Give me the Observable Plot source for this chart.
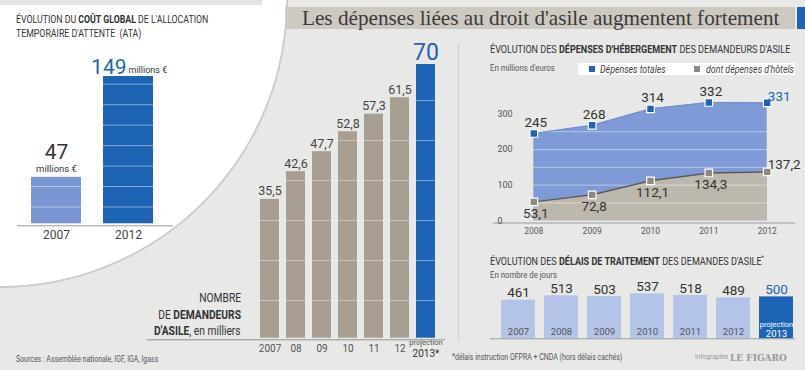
<!DOCTYPE html>
<html><head><meta charset="utf-8">
<script src="https://cdn.jsdelivr.net/npm/d3@7"></script>
<script src="https://cdn.jsdelivr.net/npm/@observablehq/plot@0.6"></script>
<style>
body{margin:0;background:#e8e8e7;}
#root{position:relative;width:805px;height:370px;background:#e8e8e7;overflow:hidden;font-family:Roboto,"Liberation Sans",sans-serif;color:#333;}
.abs{position:absolute;white-space:nowrap;}
.abs svg{display:block;}
</style></head><body><div id="root"></div>
<script>
// ---------- DATA ----------
const ataYears = ["2007", "2012"];
const ataValues = [47, 149];
const demYears = ["2007", "08", "09", "10", "11", "12", "2013"];
const demValues = [35.5, 42.6, 47.7, 52.8, 57.3, 61.5, 70];
const hebYears = [2008, 2009, 2010, 2011, 2012];
const hebTotal = [245, 268, 314, 332, 331];
const hebHotels = [53.1, 72.8, 112.1, 134.3, 137.2];
const delaiYears = ["2007", "2008", "2009", "2010", "2011", "2012", "2013"];
const delaiValues = [461, 513, 503, 537, 518, 489, 500];

// ---------- STYLE ----------
const FONT = 'Roboto,"Liberation Sans",sans-serif';
const BLUE = "#1e64b4";
const LIGHTBLUE = "#7b97d3";
const TAUPE = "#a89f92";
const AREA_BLUE = "#7f9ad6";
const AREA_GRAY = "#bdb8ad";
const PALEBLUE = "#b4c4e8";
const fr = v => String(v).replace(".", ",");

const root = document.getElementById("root");
function place(el, left, top) {
  const d = document.createElement("div");
  d.className = "abs";
  d.style.left = left + "px"; d.style.top = top + "px";
  d.appendChild(el); root.appendChild(d); return d;
}
function txt(html, x, y, size, extra = {}, align = "left", squeeze = 0.82) {
  const d = document.createElement("div");
  d.className = "abs";
  d.innerHTML = html;
  d.style.fontSize = size + "px";
  d.style.lineHeight = (size * 1.1) + "px";
  d.style.top = (y - size * 0.55) + "px";
  if (align === "right") { d.style.right = (805 - x) + "px"; d.style.transformOrigin = "right center"; }
  else { d.style.left = x + "px"; d.style.transformOrigin = "left center"; }
  if (squeeze !== 1) d.style.transform = `scaleX(${squeeze})`;
  Object.assign(d.style, extra);
  root.appendChild(d); return d;
}
function box(left, top, w, h, bgc, extra = {}) {
  const d = document.createElement("div");
  d.className = "abs";
  Object.assign(d.style, {left: left + "px", top: top + "px", width: w + "px", height: h + "px", background: bgc}, extra);
  root.appendChild(d); return d;
}

// ---------- BACKGROUND ----------
const bg = d3.create("svg").attr("width", 805).attr("height", 370);
bg.append("circle").attr("cx", 0).attr("cy", 0).attr("r", 287)
  .attr("fill", "#fff").attr("stroke", "#cdcdcd").attr("stroke-width", 2);
place(bg.node(), 0, 0);
box(0, 0, 262, 5, "#e3e3e3");

// title band
box(285, 7, 510, 22, "#cdc9c1");
box(797, 7, 8, 22, BLUE);
txt("Les dépenses liées au droit d'asile augmentent fortement", 302, 18.5, 21.2,
  {fontFamily: '"Liberation Serif","DejaVu Serif",serif', color: "#3a3a3a"}, "left", 1);

// dotted separator
box(458, 45, 0, 295, "transparent", {borderLeft: "1px dotted #b0b0b0"});

// ---------- CHART 1 : ATA ----------
txt("ÉVOLUTION DU <b>COÛT GLOBAL</b> DE L'ALLOCATION", 16, 20.7, 11.3, {}, "left", 0.775);
txt("TEMPORAIRE D'ATTENTE &nbsp;(ATA)", 16, 34.7, 11.3, {}, "left", 0.775);

const ataData = ataYears.map((year, i) => ({year, value: ataValues[i]}));
const ataGrid = d3.range(17, 149, 20.7);
const ataStripes = ataData.flatMap(d => ataGrid.filter(g => g < d.value - 3).map(level => ({year: d.year, level})));
const p1 = Plot.plot({
  width: 190, height: 210, marginLeft: 17, marginRight: 17, marginTop: 0, marginBottom: 24.7,
  style: {background: "transparent", fontFamily: FONT, overflow: "visible"},
  color: {type: "identity"},
  x: {type: "band", domain: ataYears, range: [30.7, 152.7], paddingInner: 0.3056, paddingOuter: 0, label: null},
  y: {domain: [0, 149], range: [183.3, 36], axis: null},
  marks: [
    Plot.barY(ataData, {x: "year", y: "value", fill: d => d.year === "2012" ? BLUE : LIGHTBLUE}),
    Plot.tickY(ataStripes, {x: "year", y: "level", stroke: "#fff", strokeOpacity: 0.45}),
    Plot.ruleY([0], {dy: 2, stroke: "#9a9a9a"}),
    Plot.axisX({tickSize: 0, tickPadding: 5, fontSize: 12, color: "#444", label: null}),
    Plot.text(ataData.filter(d => d.year === "2007"), {x: "year", y: "value", text: d => fr(d.value), dy: -25, fontSize: 21, fill: "#333"}),
    Plot.text(ataData.filter(d => d.year === "2007"), {x: "year", y: "value", text: () => "millions €", dy: -8.5, fontSize: 9.5, fill: "#333"}),
    Plot.text(ataData.filter(d => d.year === "2012"), {x: "year", y: "value", text: d => fr(d.value), dy: -9.5, dx: -2, textAnchor: "end", fontSize: 21, fill: BLUE}),
    Plot.text(ataData.filter(d => d.year === "2012"), {x: "year", y: "value", text: () => "millions €", dy: -6, dx: 0, textAnchor: "start", fontSize: 9, fill: "#333"})
  ]
});
place(p1, 0, 40);

// ---------- CHART 2 : DEMANDEURS ----------
txt("NOMBRE", 241, 298.3, 12.5, {}, "right");
txt("DE <b>DEMANDEURS</b>", 241, 315, 12.5, {}, "right");
txt("<b>D'ASILE</b>, en milliers", 241, 331.3, 12.5, {}, "right");

const demData = demYears.map((year, i) => ({year, value: demValues[i]}));
const demGrid = d3.range(9.64, 70, 10.23);
const demStripes = demData.flatMap(d => demGrid.filter(g => g < d.value - 1.5).map(level => ({year: d.year, level})));
const proj = demData.filter(d => d.year === "2013");
const notProj = demData.filter(d => d.year !== "2013");
const p2 = Plot.plot({
  width: 315, height: 320, marginLeft: 6.7, marginRight: 10, marginTop: 0, marginBottom: 20.7,
  style: {background: "transparent", fontFamily: FONT, overflow: "visible"},
  color: {type: "identity"},
  x: {type: "band", domain: demYears, range: [117.7, 296.7], paddingInner: 0.2875, paddingOuter: 0, label: null},
  y: {domain: [0, 70], range: [297.7, 297.7 - 70 * 3.91], axis: null},
  marks: [
    Plot.barY(demData, {x: "year", y: "value", fill: d => d.year === "2013" ? BLUE : TAUPE}),
    Plot.tickY(demStripes, {x: "year", y: "level", stroke: "#fff", strokeOpacity: 0.4}),
    Plot.ruleY([0], {dy: 1.6, stroke: "#8f8f8f"}),
    Plot.axisX({tickSize: 0, tickPadding: 5, fontSize: 10, color: "#555", label: null, tickFormat: d => d === "2013" ? "" : d}),
    Plot.text(proj, {x: "year", y: 0, text: () => "projection", dy: 4.5, fontSize: 7.5, fill: "#555"}),
    Plot.text(proj, {x: "year", y: 0, text: d => d.year + "*", dy: 15.6, fontSize: 10, fill: "#333"}),
    Plot.text(notProj, {x: "year", y: "value", text: d => fr(d.value), dy: -8, fontSize: 12.5, fill: "#444"}),
    Plot.text(proj, {x: "year", y: "value", text: d => fr(d.value), dy: -12, fontSize: 23, fill: BLUE})
  ]
});
place(p2, 140, 40);

// ---------- CHART 3 : HEBERGEMENT ----------
txt("ÉVOLUTION DES <b>DÉPENSES D'HÉBERGEMENT</b> DES DEMANDEURS D'ASILE", 490, 50.7, 11.3, {}, "left", 0.8);
txt("En millions d'euros", 490, 68.3, 9.5, {color: "#555"});
box(578, 63, 217, 12, "#fff");
box(589, 65.5, 6, 6, BLUE);
txt("Dépenses totales", 600, 69, 10, {fontStyle: "italic", color: "#444"}, "left", 0.88);
box(694, 65.5, 6, 6, "#8f887c");
txt("dont dépenses d'hôtels", 706, 69, 10, {fontStyle: "italic", color: "#444"}, "left", 0.88);

const hebData = hebYears.map((year, i) => ({year, total: hebTotal[i], hotels: hebHotels[i]}));
const lastYear = hebYears[hebYears.length - 1];
const p3 = Plot.plot({
  width: 345, height: 200, marginLeft: 33, marginRight: 10, marginTop: 0, marginBottom: 17.5,
  style: {background: "transparent", fontFamily: FONT, overflow: "visible"},
  x: {type: "linear", domain: [hebYears[0], lastYear], range: [73.3, 306.7], label: null},
  y: {domain: [0, 350], range: [180.3, 180.3 - 350 * 0.3565], label: null},
  marks: [
    Plot.areaY(hebData, {x: "year", y: "total", fill: AREA_BLUE}),
    Plot.areaY(hebData, {x: "year", y: "hotels", fill: AREA_GRAY}),
    Plot.ruleY(d3.range(50, 300, 50), {x1: hebYears[0], x2: lastYear, stroke: "#fff", strokeOpacity: 0.45}),
    Plot.lineY(hebData, {x: "year", y: "total", stroke: "#6f8bcb", strokeWidth: 1}),
    Plot.lineY(hebData, {x: "year", y: "hotels", stroke: "#5a5a5a", strokeWidth: 1.5}),
    Plot.ruleY([0], {dy: 2.2, stroke: "#9a9a9a"}),
    Plot.axisX({ticks: hebYears, tickFormat: d => String(d), tickSize: 0, tickPadding: 4.5, fontSize: 8.5, color: "#555", label: null}),
    Plot.axisY({ticks: [0, 100, 200, 300], tickSize: 0, tickPadding: 0, textAnchor: "start", dx: 4, fontSize: 9, color: "#555", label: null}),
    Plot.dot(hebData, {x: "year", y: "total", symbol: "square", r: 4.3, fill: BLUE, stroke: "#fff", strokeWidth: 1.2}),
    Plot.dot(hebData, {x: "year", y: "hotels", symbol: "square", r: 4.3, fill: "#8f887c", stroke: "#fff", strokeWidth: 1.2}),
    Plot.text(hebData.filter(d => d.year !== lastYear), {x: "year", y: "total", text: d => fr(d.total), dy: -11, dx: 2, fontSize: 13.5, fill: "#333"}),
    Plot.text(hebData.filter(d => d.year === lastYear), {x: "year", y: "total", text: d => fr(d.total), dy: -6, dx: 12, fontSize: 13.5, fill: BLUE}),
    Plot.text(hebData.filter(d => d.year !== lastYear), {x: "year", y: "hotels", text: d => fr(d.hotels), dy: 12, dx: 2, fontSize: 13.5, fill: "#333"}),
    Plot.text(hebData.filter(d => d.year === lastYear), {x: "year", y: "hotels", text: d => fr(d.hotels), dy: -7, dx: 17, fontSize: 13.5, fill: "#333"})
  ]
});
place(p3, 460, 40);

// ---------- CHART 4 : DELAIS ----------
txt("ÉVOLUTION DES <b>DÉLAIS DE TRAITEMENT</b> DES DEMANDES D'ASILE<sup style='font-size:7px;line-height:0'>*</sup>", 490, 262, 11.3, {}, "left", 0.8);
txt("En nombre de jours", 490, 275.5, 9.5, {color: "#555"});
const delData = delaiYears.map((year, i) => ({year, value: delaiValues[i]}));
const delProj = delData.filter(d => d.year === "2013");
const delPast = delData.filter(d => d.year !== "2013");
const p4 = Plot.plot({
  width: 345, height: 85, marginLeft: 30, marginRight: 10, marginTop: 0, marginBottom: 26.7,
  style: {background: "transparent", fontFamily: FONT, overflow: "visible"},
  color: {type: "identity"},
  x: {type: "band", domain: delaiYears, range: [40, 334], paddingInner: 0.2023, paddingOuter: 0, axis: null},
  y: {domain: [0, 537], range: [58.3, 58.3 - 45], axis: null},
  marks: [
    Plot.barY(delData, {x: "year", y: "value", fill: d => d.year === "2013" ? BLUE : PALEBLUE}),
    Plot.ruleY([0], {stroke: "#9a9a9a"}),
    Plot.text(delPast, {x: "year", y: "value", text: d => fr(d.value), dy: -7, fontSize: 13.5, fill: "#333"}),
    Plot.text(delProj, {x: "year", y: "value", text: d => fr(d.value), dy: -7, fontSize: 13.5, fill: BLUE}),
    Plot.text(delPast, {x: "year", y: 0, text: "year", dy: -6.5, fontSize: 9.5, fill: "#555", fontWeight: d => d.year === "2012" ? "bold" : "normal"}),
    Plot.text(delProj, {x: "year", y: 0, text: () => "projection", dy: -14, fontSize: 7.5, fill: "#fff"}),
    Plot.text(delProj, {x: "year", y: 0, text: "year", dy: -4.5, fontSize: 9.5, fill: "#fff"})
  ]
});
place(p4, 460, 280);

// ---------- FOOTERS ----------
txt("Sources : Assemblée nationale, IGF, IGA, Igass", 16, 360, 8.5, {color: "#555"});
txt("*délais instruction OFPRA + CNDA (hors délais cachés)", 452, 358, 8.5, {color: "#555"});
txt("Infographie", 695, 357.5, 8, {color: "#999"});
txt("LE FIGARO", 730, 357.5, 10, {color: "#999", fontFamily: '"DejaVu Serif","Liberation Serif",serif', fontWeight: "bold"}, "left", 0.9);
</script>
</body></html>
